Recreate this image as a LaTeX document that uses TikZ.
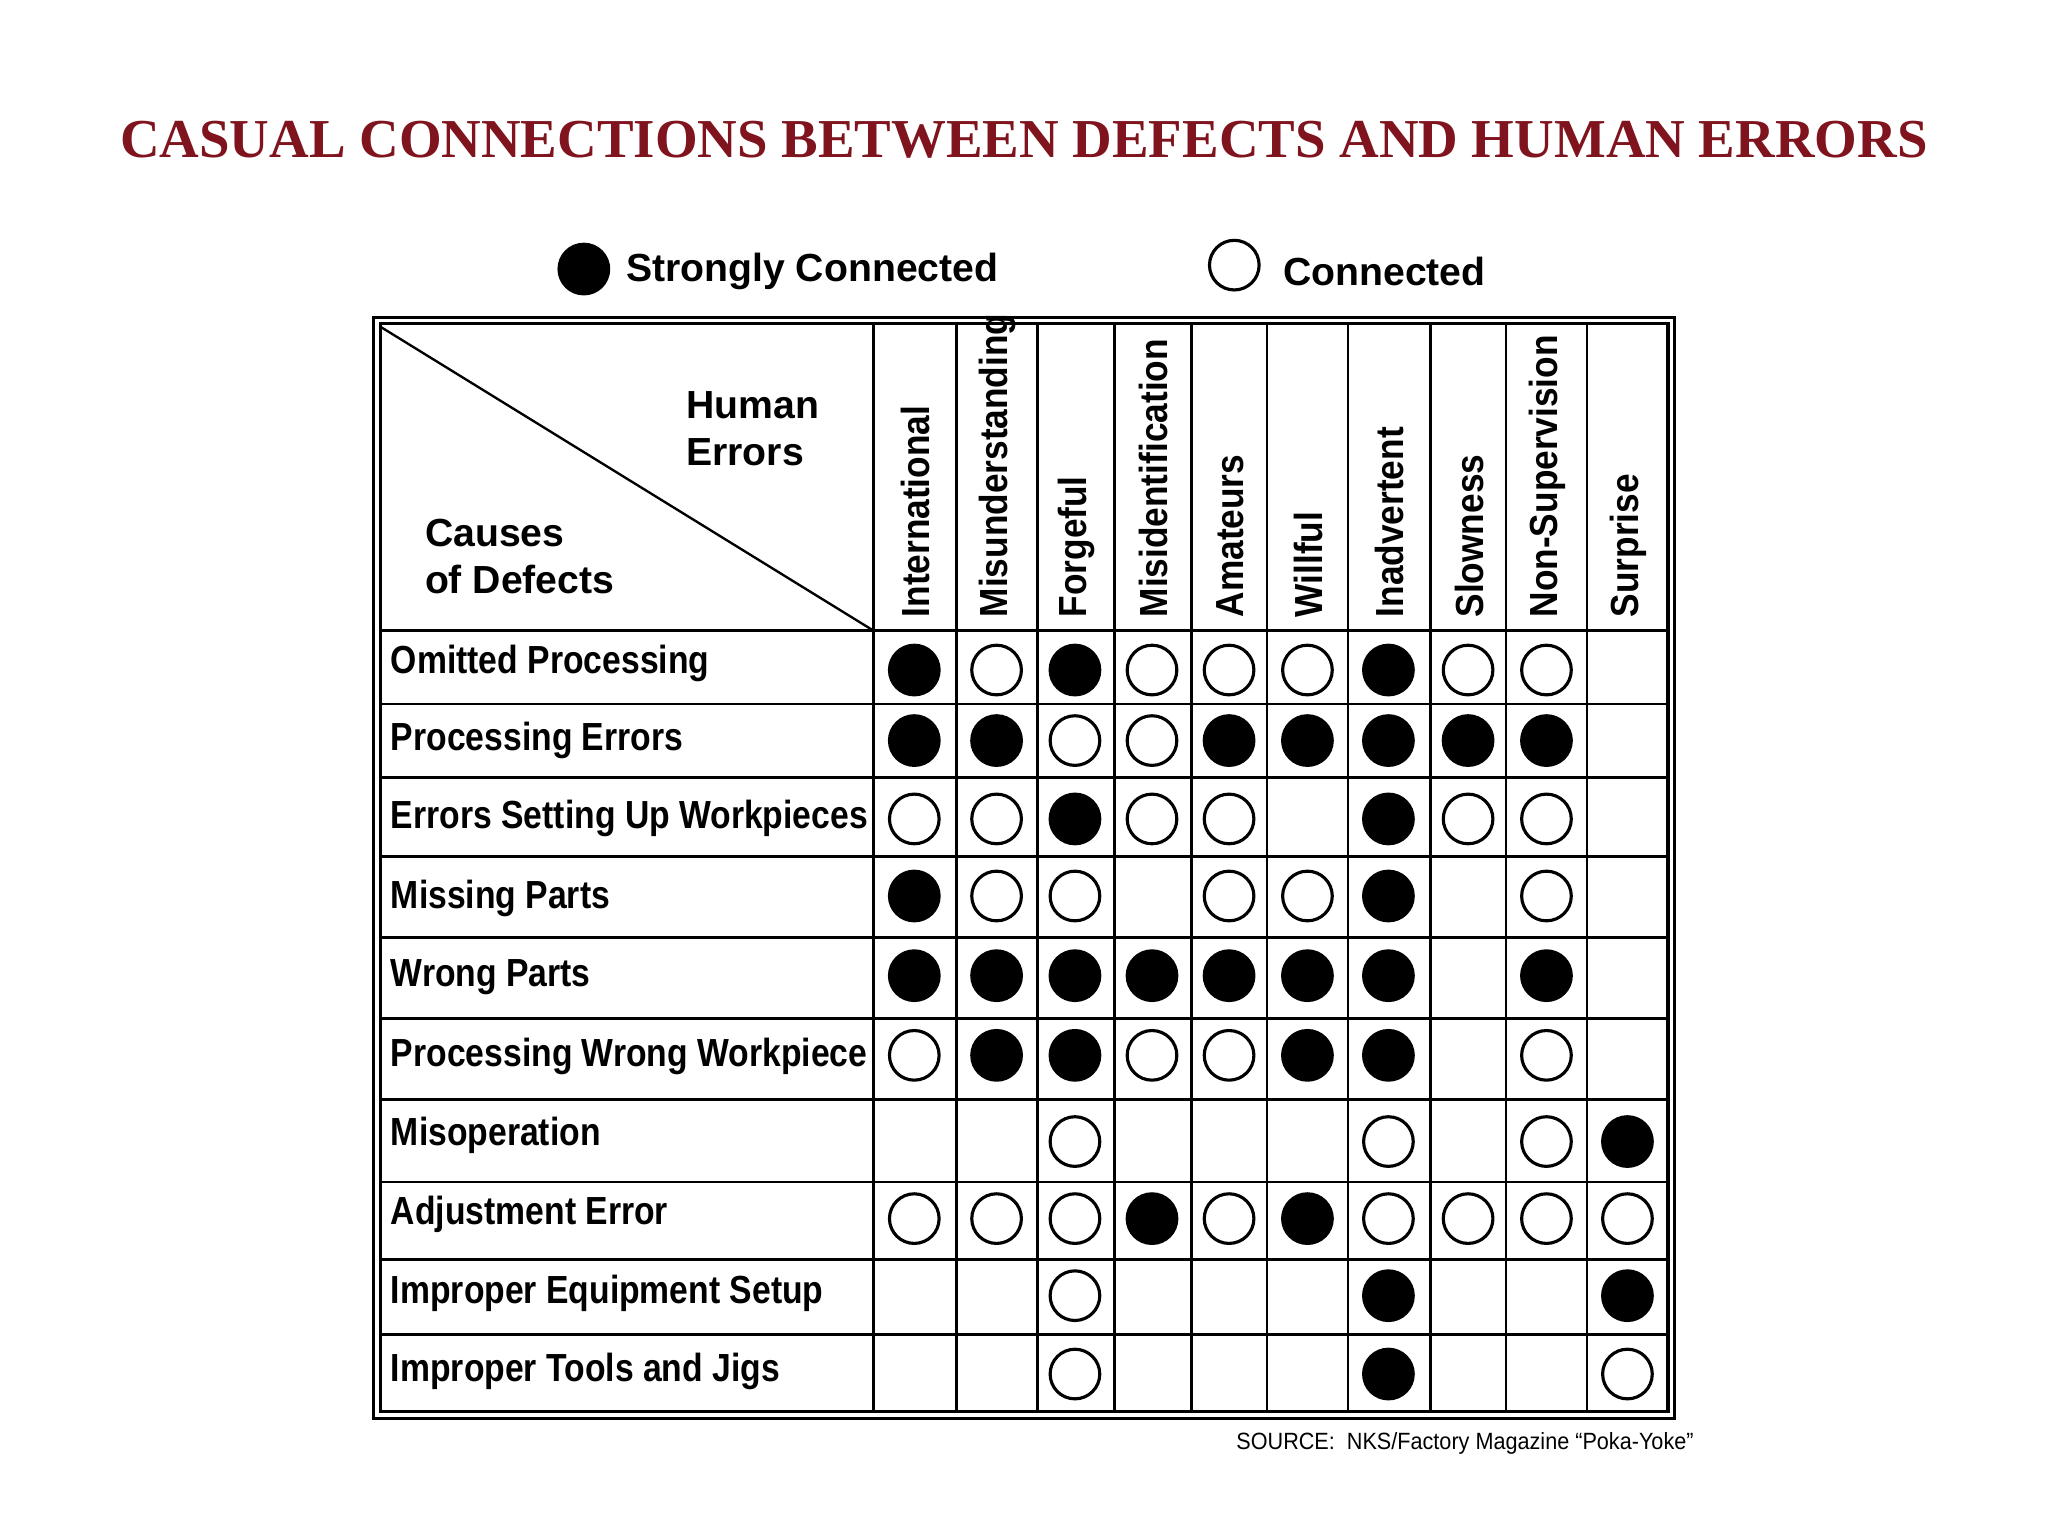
\documentclass[tikz,border=0pt]{standalone}
\usepackage{fontspec}
\setmainfont{Liberation Serif}
\setsansfont{Liberation Sans}
\definecolor{titlered}{RGB}{128,20,30}
\begin{document}
\begin{tikzpicture}[x=0.5pt,y=-0.5pt,
  lbl/.style={font=\sffamily\bfseries\fontsize{15}{18}\selectfont},
  rowlbl/.style={lbl,anchor=west,xscale=0.86,inner sep=0},
  colhd/.style={lbl,rotate=90,anchor=west,inner sep=0,xscale=0.9},
  fdot/.style={circle,fill=black,draw=black,line width=1.2pt,minimum size=19pt,inner sep=0},
  odot/.style={circle,fill=white,draw=black,line width=1.2pt,minimum size=19pt,inner sep=0},
  grid/.style={line width=1.1pt}]
\useasboundingbox (0,0) rectangle (1568,1176);
\node[font=\bfseries\fontsize{21}{24}\selectfont,text=titlered] (title) at (784,107) {CASUAL CONNECTIONS BETWEEN DEFECTS AND HUMAN ERRORS};
\node[fdot] (lf) at (447,206) {};
\node[lbl,anchor=west,inner sep=0] (lft) at (479,208) {Strongly Connected};
\node[odot] (lo) at (945,203) {};
\node[lbl,anchor=west,inner sep=0] (lot) at (982,208) {Connected};
\draw[line width=1.2pt] (286,243) rectangle (1282,1086);
\draw[line width=1.2pt] (291,248) rectangle (1277,1081);
\draw[line width=0.9pt] (291,250) -- (669,483);
\node[lbl,anchor=west,align=left,inner sep=0] (he) at (525,328) {Human\\Errors};
\node[lbl,anchor=west,align=left,inner sep=0] (cd) at (325,426) {Causes\\of Defects};
\def\cols{669,732,794,853,912,970,1032,1095,1153,1215,1277}
\foreach \x in {669,732,794,853,912,970,1032,1095,1153,1215} \draw[grid] (\x,248) -- (\x,1081);
\foreach \y in {483,539,595,656,718,780,842,905,964,1022} \draw[grid] (291,\y) -- (1277,\y);
\foreach \n/\x/\t in {1/700/International,2/763/Misunderstanding,3/823/Forgeful,4/882/Misidentification,5/941/Amateurs,6/1001/Willful,7/1063/Inadvertent,8/1124/Slowness,9/1184/Non-Supervision,10/1246/Surprise}
  \node[colhd] (h\n) at (\x+1,473) {\t};
\foreach \r/\y/\t in {1/508/Omitted Processing,2/567/Processing Errors,3/627/Errors Setting Up Workpieces,4/688/Missing Parts,5/748/Wrong Parts,6/809/Processing Wrong Workpiece,7/869/Misoperation,8/930/Adjustment Error,9/990/Improper Equipment Setup,10/1050/Improper Tools and Jigs}
  \node[rowlbl] (r\r) at (299,\y) {\t};
\def\xs{{0,700,763,823,882,941,1001,1063,1124,1184,1246}}
\foreach \r/\y/\d in {1/513/FOFOOOFOO-,2/567/FFOOFFFFF-,3/627/OOFOO-FOO-,4/686/FOO-OOF-O-,5/747/FFFFFFF-F-,6/808/OFFOOFF-O-,7/874/--O---O-OF,8/933/OOOFOFOOOO,9/992/--O---F--F,10/1052/--O---F--O}{
  \foreach \c in {1,...,10}{
    \pgfmathsetmacro{\xx}{\xs[\c]}
    \edef\ch{\noexpand\StrCh{\d}{\c}}
    \pgfmathparse{0}
    \def\tmp{\d}
  }
}
\newcommand\mydots[3]{%
  \foreach \ch [count=\c] in {#3}{%
    \pgfmathsetmacro{\xx}{\xs[\c]}%
    \if\ch F\node[fdot] (d#1-\c) at (\xx,#2) {};\fi
    \if\ch O\node[odot] (d#1-\c) at (\xx,#2) {};\fi
  }}
\mydots{1}{513}{F,O,F,O,O,O,F,O,O,-}
\mydots{2}{567}{F,F,O,O,F,F,F,F,F,-}
\mydots{3}{627}{O,O,F,O,O,-,F,O,O,-}
\mydots{4}{686}{F,O,O,-,O,O,F,-,O,-}
\mydots{5}{747}{F,F,F,F,F,F,F,-,F,-}
\mydots{6}{808}{O,F,F,O,O,F,F,-,O,-}
\mydots{7}{874}{-,-,O,-,-,-,O,-,O,F}
\mydots{8}{933}{O,O,O,F,O,F,O,O,O,O}
\mydots{9}{992}{-,-,O,-,-,-,F,-,-,F}
\mydots{10}{1052}{-,-,O,-,-,-,F,-,-,O}
\node[font=\sffamily\fontsize{9}{11}\selectfont,anchor=east,inner sep=0,xscale=0.92] (src) at (1297,1105) {SOURCE:\ \ NKS/Factory Magazine “Poka-Yoke”};
\end{tikzpicture}
\end{document}
